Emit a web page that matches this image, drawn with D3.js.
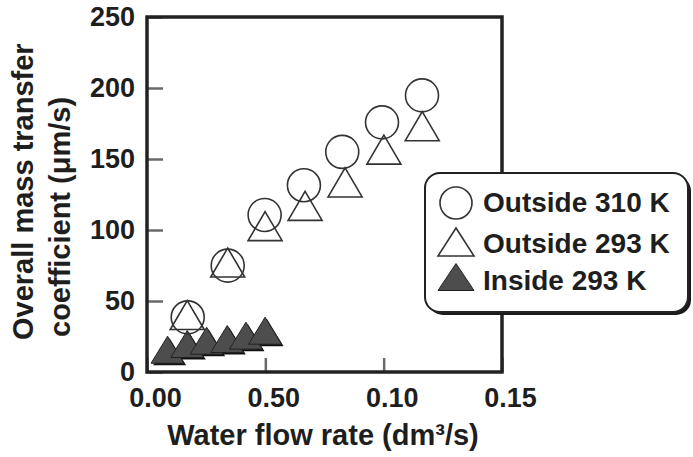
<!DOCTYPE html>
<html><head><meta charset="utf-8">
<script src="https://cdn.jsdelivr.net/npm/d3@7"></script>
<style>
html,body{margin:0;padding:0;background:#fff;}
svg text{font-family:"Liberation Sans",Arial,sans-serif;font-weight:bold;fill:#1e1e1e;}
</style></head>
<body>
<svg id="c" width="693" height="457"></svg>
<script>
// ---- data ----
const xOut310 = [0.0172, 0.0341, 0.0497, 0.0663, 0.0825, 0.0993, 0.1162];
const yOut310 = [38.5, 74.9, 110.6, 131.5, 155.0, 175.8, 194.8];
const xOut293 = [0.0170, 0.0341, 0.0499, 0.0668, 0.0837, 0.1001, 0.1163];
const yOut293 = [40.1, 77.1, 102.7, 117.0, 133.5, 156.6, 173.1];
const xIn293 = [0.0087, 0.0170, 0.0252, 0.0339, 0.0418, 0.0499];
const yIn293 = [15.7, 19.7, 22.0, 23.2, 25.6, 29.1];
const xTicks = [0, 0.05, 0.10, 0.15];
const xTickLabels = ["0.00", "0.50", "0.10", "0.15"];
const yTicks = [0, 50, 100, 150, 200, 250];
const seriesNames = ["Outside 310 K", "Outside 293 K", "Inside 293 K"];
const xTitle = "Water flow rate (dm\u00B3/s)";
const yTitle = ["Overall mass transfer", "coefficient (\u03BCm/s)"];

const svg = d3.select("#c");
const x = d3.scaleLinear().domain([0, 0.15]).range([147, 502]);
const y = d3.scaleLinear().domain([0, 250]).range([372, 17]);

// axes with inward ticks
const gx = svg.append("g").attr("transform", `translate(0,${y(0)})`)
  .call(d3.axisBottom(x).tickValues(xTicks).tickSize(-14).tickPadding(16)
    .tickFormat((d, i) => xTickLabels[i]));
const gy = svg.append("g").attr("transform", `translate(${x(0)},0)`)
  .call(d3.axisLeft(y).tickValues(yTicks).tickSize(-16).tickPadding(12));
[gx, gy].forEach(g => {
  g.select(".domain").remove();
  g.selectAll(".tick line").attr("stroke", "#6a6a6a").attr("stroke-width", 2.5);
  g.selectAll(".tick text").attr("font-size", 27).style("font-family", '"Liberation Sans",Arial,sans-serif').style("font-weight", "bold").attr("fill", "#1e1e1e");
});
gx.selectAll(".tick text").attr("dx", 8);
gy.selectAll(".tick text").attr("dy", "0.32em");

// frame
svg.append("rect").attr("x", x(0)).attr("y", y(250))
  .attr("width", x(0.15) - x(0)).attr("height", y(0) - y(250))
  .attr("fill", "none").attr("stroke", "#222").attr("stroke-width", 3.5);

// marker helpers
function triPath(cx, cy, w, h) {
  return `M${cx},${cy - h / 2}L${cx + w / 2},${cy + h / 2}L${cx - w / 2},${cy + h / 2}Z`;
}
const plot = svg.append("g");
// filled triangles (Inside 293 K) with a dark drop shadow
const inData = xIn293.map((v, i) => [v, yIn293[i]]);
plot.selectAll("path.insh").data(inData).join("path")
  .attr("d", d => triPath(x(d[0]) + 2, y(d[1]) + 2, 33, 27))
  .attr("fill", "#111");
plot.selectAll("path.in").data(inData).join("path")
  .attr("d", d => triPath(x(d[0]), y(d[1]), 33, 27))
  .attr("fill", "#4d4d4d").attr("stroke", "#222").attr("stroke-width", 1);
// open triangles (Outside 293 K)
const o293 = xOut293.map((v, i) => [v, yOut293[i]]);
plot.selectAll("path.o293").data(o293).join("path")
  .attr("d", d => triPath(x(d[0]), y(d[1]), 34, 29))
  .attr("fill", "none").attr("stroke", "#333").attr("stroke-width", 1.6);
// open circles (Outside 310 K)
const o310 = xOut310.map((v, i) => [v, yOut310[i]]);
plot.selectAll("circle.o310").data(o310).join("circle")
  .attr("cx", d => x(d[0])).attr("cy", d => y(d[1])).attr("r", 16.5)
  .attr("fill", "none").attr("stroke", "#333").attr("stroke-width", 1.6);

// axis titles
svg.append("text").attr("x", 323).attr("y", 445).attr("text-anchor", "middle")
  .attr("font-size", 29).text(xTitle);
svg.append("text").attr("transform", "translate(33,340) rotate(-90)")
  .attr("font-size", 29).text(yTitle[0]);
svg.append("text").attr("transform", "translate(70,337) rotate(-90)")
  .attr("font-size", 29).text(yTitle[1]);

// legend
const lg = svg.append("g");
lg.append("rect").attr("x", 428).attr("y", 176).attr("width", 263).attr("height", 139)
  .attr("rx", 15).attr("fill", "#1a1a1a");
lg.append("rect").attr("x", 425).attr("y", 173).attr("width", 263).attr("height", 139)
  .attr("rx", 15).attr("fill", "#fff").attr("stroke", "#222").attr("stroke-width", 2);
const rowY = [203, 242, 277];
const rowBase = [212, 253, 290];
lg.append("circle").attr("cx", 456).attr("cy", rowY[0]).attr("r", 16)
  .attr("fill", "none").attr("stroke", "#333").attr("stroke-width", 1.6);
lg.append("path").attr("d", triPath(456, rowY[1], 36, 28))
  .attr("fill", "none").attr("stroke", "#333").attr("stroke-width", 1.6);
lg.append("path").attr("d", triPath(456, rowY[2], 36, 27))
  .attr("fill", "#4d4d4d").attr("stroke", "#222").attr("stroke-width", 1);
lg.selectAll("text.lt").data(seriesNames).join("text")
  .attr("x", 483).attr("y", (d, i) => rowBase[i]).attr("font-size", 28).text(d => d);
</script>
</body></html>
